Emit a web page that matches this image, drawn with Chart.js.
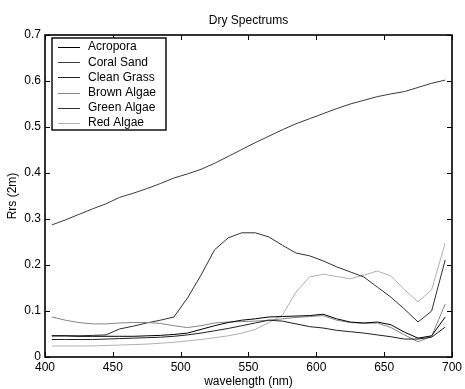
<!DOCTYPE html>
<html>
<head>
<meta charset="utf-8">
<script src="https://cdn.jsdelivr.net/npm/chart.js@4.4.1/dist/chart.umd.min.js"></script>
<style>
  html, body { margin: 0; padding: 0; background: #fff; }
  #wrap { width: 465px; height: 389px; }
</style>
</head>
<body>
<div id="wrap"><canvas id="c" width="465" height="389"></canvas></div>
<script>
const wavelengths = [405,415,425,435,445,455,465,475,485,495,505,515,525,535,545,555,565,575,585,595,605,615,625,635,645,655,665,675,685,695];
const seriesNames = ["Acropora","Coral Sand","Clean Grass","Brown Algae","Green Algae","Red Algae"];
const acropora   = [0.046,0.046,0.045,0.045,0.045,0.045,0.045,0.046,0.047,0.049,0.052,0.060,0.068,0.075,0.080,0.083,0.087,0.088,0.089,0.090,0.093,0.083,0.076,0.074,0.076,0.070,0.054,0.041,0.046,0.087];
const coralSand  = [0.287,0.298,0.310,0.322,0.333,0.347,0.356,0.366,0.377,0.389,0.398,0.408,0.421,0.436,0.451,0.466,0.480,0.494,0.507,0.518,0.529,0.540,0.550,0.558,0.566,0.572,0.577,0.586,0.595,0.602];
const cleanGrass = [0.038,0.038,0.038,0.038,0.039,0.040,0.041,0.042,0.043,0.045,0.048,0.052,0.057,0.062,0.068,0.074,0.080,0.078,0.072,0.066,0.063,0.058,0.055,0.052,0.048,0.044,0.039,0.039,0.043,0.065];
const brownAlgae = [0.087,0.080,0.075,0.072,0.072,0.074,0.075,0.075,0.073,0.068,0.064,0.068,0.074,0.076,0.077,0.078,0.080,0.083,0.086,0.088,0.090,0.080,0.075,0.073,0.074,0.064,0.048,0.033,0.045,0.115];
const greenAlgae = [0.046,0.046,0.046,0.047,0.048,0.061,0.067,0.074,0.080,0.087,0.128,0.178,0.233,0.259,0.270,0.270,0.261,0.243,0.226,0.220,0.209,0.196,0.185,0.174,0.152,0.130,0.104,0.076,0.100,0.211];
const redAlgae   = [0.024,0.024,0.024,0.024,0.025,0.026,0.027,0.028,0.030,0.032,0.035,0.038,0.042,0.046,0.052,0.060,0.075,0.091,0.141,0.174,0.180,0.175,0.170,0.178,0.187,0.176,0.146,0.120,0.146,0.248];
const xTicks = [400,450,500,550,600,650,700];
const yTicks = [0,0.1,0.2,0.3,0.4,0.5,0.6,0.7];

const seriesValues = [acropora, coralSand, cleanGrass, brownAlgae, greenAlgae, redAlgae];
const seriesColors = ["#000000","#3a3a3a","#202020","#858585","#303030","#b0b0b0"];

const datasets = seriesNames.map((n, i) => ({
  label: n,
  data: wavelengths.map((w, j) => ({x: w, y: seriesValues[i][j]})),
  borderColor: seriesColors[i],
  backgroundColor: seriesColors[i],
  borderWidth: 1,
  pointRadius: 0,
  tension: 0,
  fill: false
}));

const FONT = "'Liberation Sans', Arial, sans-serif";

const framePlugin = {
  id: 'frame',
  afterDatasetsDraw(chart) {
    const {ctx, chartArea: a, scales} = chart;
    ctx.save();
    ctx.strokeStyle = '#000';
    ctx.lineWidth = 1;
    const tl = 5;
    ctx.beginPath();
    xTicks.forEach(v => {
      const px = Math.round(scales.x.getPixelForValue(v)) + 0.5;
      ctx.moveTo(px, a.bottom); ctx.lineTo(px, a.bottom - tl);
      ctx.moveTo(px, a.top); ctx.lineTo(px, a.top + tl);
    });
    yTicks.forEach(v => {
      const py = Math.round(scales.y.getPixelForValue(v)) + 0.5;
      ctx.moveTo(a.left, py); ctx.lineTo(a.left + tl, py);
      ctx.moveTo(a.right, py); ctx.lineTo(a.right - tl, py);
    });
    ctx.stroke();
    ctx.lineWidth = 1.6;
    ctx.strokeRect(a.left, a.top, a.right - a.left, a.bottom - a.top);

    // legend box
    const lx = a.left + 7, ly = a.top + 3, lw = 114, lh = 92;
    ctx.fillStyle = '#fff';
    ctx.fillRect(lx, ly, lw, lh);
    ctx.lineWidth = 1.4;
    ctx.strokeRect(lx, ly, lw, lh);
    ctx.font = '12px ' + FONT;
    ctx.textBaseline = 'middle';
    ctx.textAlign = 'left';
    chart.data.datasets.forEach((ds, i) => {
      const cy = ly + 9 + i * 15.2;
      ctx.strokeStyle = ds.borderColor;
      ctx.lineWidth = 1;
      ctx.beginPath();
      ctx.moveTo(lx + 6, Math.round(cy) + 0.5);
      ctx.lineTo(lx + 28, Math.round(cy) + 0.5);
      ctx.stroke();
      ctx.fillStyle = '#000';
      ctx.fillText(ds.label, lx + 36, cy);
    });
    ctx.restore();
  }
};

new Chart(document.getElementById('c'), {
  type: 'line',
  data: { datasets },
  options: {
    responsive: false,
    animation: false,
    layout: { padding: { left: 0, right: 10, top: 0, bottom: 0 } },
    plugins: {
      legend: { display: false },
      tooltip: { enabled: false },
      title: {
        display: true,
        text: 'Dry Spectrums',
        fullSize: false,
        color: '#000',
        font: { family: FONT, size: 12, weight: 'normal' },
        padding: { top: 13, bottom: 7.6 }
      }
    },
    scales: {
      x: {
        type: 'linear',
        min: 400, max: 700,
        afterFit(s) { s.height = 32; },
        afterBuildTicks(s) { s.ticks = xTicks.map(v => ({value: v})); },
        grid: { display: false, drawTicks: false },
        border: { display: false },
        ticks: { color: '#000', padding: 3, maxRotation: 0, font: { family: FONT, size: 12 } },
        title: { display: true, text: 'wavelength (nm)', color: '#000', padding: { top: 0, bottom: 0 }, font: { family: FONT, size: 12 } }
      },
      y: {
        type: 'linear',
        min: 0, max: 0.7,
        afterFit(s) { s.width = 45; },
        afterBuildTicks(s) { s.ticks = yTicks.map(v => ({value: v})); },
        grid: { display: false, drawTicks: false },
        border: { display: false },
        ticks: {
          color: '#000', padding: 4, font: { family: FONT, size: 12 },
          callback: v => (Math.round(v * 10) / 10).toString()
        },
        title: { display: true, text: 'Rrs (2m)', color: '#000', padding: { top: 5, bottom: 0 }, font: { family: FONT, size: 12 } }
      }
    }
  },
  plugins: [framePlugin]
});
</script>
</body>
</html>
